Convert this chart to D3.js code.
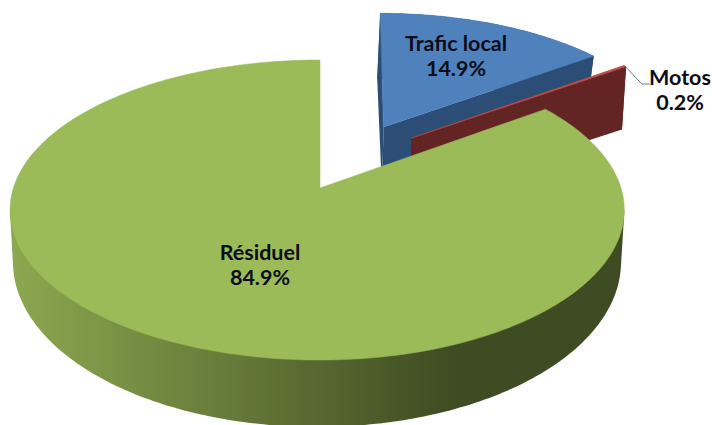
<!DOCTYPE html>
<html><head><meta charset="utf-8">
<script src="https://cdn.jsdelivr.net/npm/d3@7/dist/d3.min.js"></script>
<style>html,body{margin:0;padding:0;background:#fff}svg{display:block}
text{font-family:Lato,sans-serif;font-weight:700;fill:#0c0c18;text-anchor:middle}</style>
</head><body><div id="c"></div>
<script>
const categories = ["Trafic local", "Motos", "Résiduel"];
const values = [14.9, 0.2, 84.9];
const labels = ["14.9%", "0.2%", "84.9%"];
const topColors = ["#4F81BD", "#C0504D", "#9BBB59"];
const wallColors = ["#2C4D75", "#632523", "url(#wall)"];
const explodeX = [0.217, 0.334, 0];
const explodeY = [-0.442, -0.358, 0];
const labelX = [456, 680, 260];
const labelY = [51, 85, 260];

const W = 712, H = 425;
const svg = d3.select("#c").append("svg").attr("width", W).attr("height", H);
const grad = svg.append("defs").append("linearGradient").attr("id", "wall")
  .attr("gradientUnits", "userSpaceOnUse").attr("x1", 10).attr("x2", 455).attr("y1", 0).attr("y2", 0);
grad.append("stop").attr("offset", 0).attr("stop-color", "#8CA850");
grad.append("stop").attr("offset", 1).attr("stop-color", "#3F4B22");

// perspective planes of the disc (top face / bottom face) for each slice
const topPlanes = [
  {cx: 320, cy: 188, a: 146.8, bL: 303.7, bR: 303.7, k: -0.1467, sk: -4},
  {cx: 312, cy: 188, a: 146.8, bL: 303.7, bR: 303.7, k: -0.1467, sk: -8.5},
  {cx: 320, cy: 188, a: 146.8, bL: 306.6, bR: 301, k: -0.1467, sk: 0}
];
const lowPlanes = [
  {cx: 319, cy: 248, a: 147.2, bL: 303.7, bR: 303.7, k: -0.178, sk: -4},
  {cx: 309, cy: 248, a: 147.2, bL: 303.7, bR: 303.7, k: -0.178, sk: -15.6},
  {cx: 317, cy: 243, a: 162.8, bL: 302, bR: 302, k: -0.115, sk: 0}
];
const project = (pl, x, y) => {
  const w = 1 + pl.k * y;
  return [pl.cx + (x < 0 ? pl.bL : pl.bR) * x / w + pl.sk * y, pl.cy + pl.a * y / w];
};
const line = d3.line();
const slices = d3.pie().sort(null).startAngle(0).endAngle(2 * Math.PI)(values);

function rimPts(s, i, pl, a0, a1) {
  const from = a0 === undefined ? s.startAngle : a0, to = a1 === undefined ? s.endAngle : a1;
  const n = Math.max(2, Math.ceil((to - from) * 60));
  return d3.range(n + 1).map(j => {
    const t = from + (to - from) * j / n;
    return project(pl, explodeX[i] + Math.sin(t), explodeY[i] - Math.cos(t));
  });
}
const apex = (i, pl) => project(pl, explodeX[i], explodeY[i]);

[0, 1, 2].forEach(i => {
  const s = slices[i];
  const rt = rimPts(s, i, topPlanes[i]), rl = rimPts(s, i, lowPlanes[i]);
  const at = apex(i, topPlanes[i]), al = apex(i, lowPlanes[i]);
  const g = svg.append("g");
  if (i < 2) {
    g.append("path").attr("d", line(rt.concat(rl.slice().reverse())) + "Z").attr("fill", wallColors[i]);
    g.append("path").attr("d", line([at, rt[0], rl[0], al]) + "Z").attr("fill", wallColors[i]);
    g.append("path").attr("d", line([at, rt[rt.length - 1], rl[rl.length - 1], al]) + "Z").attr("fill", wallColors[i]);
  } else {
    // silhouette of the front of the disc: hull of the front parts of both rims
    const a0 = Math.PI / 2 + 0.15, a1 = 3 * Math.PI / 2 - 0.15;
    const front = rimPts(s, i, topPlanes[i], a0, a1).concat(rimPts(s, i, lowPlanes[i], a0, a1));
    g.append("path").attr("d", line(d3.polygonHull(front)) + "Z").attr("fill", wallColors[i]);
  }
  g.append("path").attr("d", line([at].concat(rt)) + "Z").attr("fill", topColors[i])
    .attr("stroke", topColors[i]).attr("stroke-width", 0.5);
});

const motosRim = rimPts(slices[1], 1, topPlanes[1])[1];
svg.append("path").attr("fill", "none").attr("stroke", "#555").attr("stroke-width", 0.8)
  .attr("d", line([motosRim, [motosRim[0] + 17, motosRim[1] + 18], [motosRim[0] + 25, motosRim[1] + 18]]));

categories.forEach((c, i) => {
  const t = svg.append("text").attr("font-size", 21.5);
  t.append("tspan").attr("x", labelX[i]).attr("y", labelY[i]).text(c);
  t.append("tspan").attr("x", labelX[i]).attr("y", labelY[i] + 25).text(labels[i]);
});
</script></body></html>
